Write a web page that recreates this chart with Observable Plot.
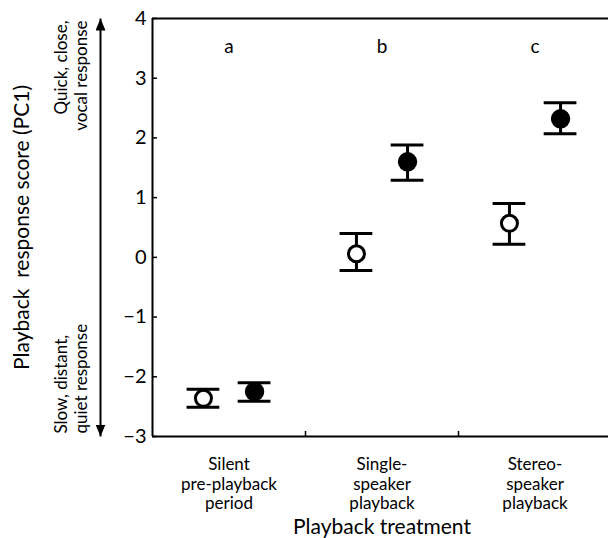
<!DOCTYPE html>
<html>
<head>
<meta charset="utf-8">
<script src="https://cdn.jsdelivr.net/npm/d3@7"></script>
<script src="https://cdn.jsdelivr.net/npm/@observablehq/plot@0.6"></script>
<style>
  html, body { margin: 0; padding: 0; background: #fff; overflow: hidden; }
  svg { display: block; }
</style>
</head>
<body>
<div id="chart"></div>
<script>
// ---- data ----
const categories = ["Silent\npre-playback\nperiod", "Single-\nspeaker\nplayback", "Stereo-\nspeaker\nplayback"];
const groupLetters = ["a", "b", "c"];
const openMean = [-2.36, 0.06, 0.57];
const openLow = [-2.51, -0.22, 0.22];
const openHigh = [-2.21, 0.40, 0.90];
const filledMean = [-2.25, 1.60, 2.32];
const filledLow = [-2.41, 1.29, 2.07];
const filledHigh = [-2.10, 1.88, 2.59];
const yTicks = [-3, -2, -1, 0, 1, 2, 3, 4];
const xDividers = [1, 2];

// ---- layout ----
const W = 608, H = 538;
const mL = 152, mR = 0, mT = 18, mB = 102;
const plotW = W - mL - mR, plotH = H - mT - mB;
const yMin = -3, yMax = 4;
const pxPerY = plotH / (yMax - yMin);
const tickLen = 5;
const offset = 0.167;   // horizontal shift of each series inside a category
const capHalf = 0.107;  // half width of error-bar caps
const font = "Lato, 'Open Sans', sans-serif";

const open = categories.map((c, i) => ({i, x: i + 0.5 - offset, m: openMean[i], lo: openLow[i], hi: openHigh[i]}));
const filled = categories.map((c, i) => ({i, x: i + 0.5 + offset, m: filledMean[i], lo: filledLow[i], hi: filledHigh[i]}));
const both = open.concat(filled);

const arrowHead = (color) => {
  const m = d3.create("svg:marker")
    .attr("viewBox", "0 -5 12 10")
    .attr("refX", 12)
    .attr("refY", 0)
    .attr("markerWidth", 12)
    .attr("markerHeight", 10)
    .attr("markerUnits", "userSpaceOnUse")
    .attr("orient", "auto-start-reverse");
  m.append("path").attr("d", "M0,-5L12,0L0,5Z").attr("fill", color).attr("stroke", "none");
  return m.node();
};

const chart = Plot.plot({
  width: W, height: H,
  marginLeft: mL, marginRight: mR, marginTop: mT, marginBottom: mB,
  style: {fontFamily: font, color: "#000", background: "#fff", overflow: "visible"},
  x: {domain: [0, plotW / 153], axis: null},
  y: {domain: [yMin, yMax], axis: null},
  marks: [
    // frame lines
    Plot.ruleY([yMax, yMin], {stroke: "#000", strokeWidth: 2}),
    Plot.ruleX([0], {y1: yMin, y2: yMax, stroke: "#000", strokeWidth: 2}),
    // inward ticks
    Plot.ruleY(yTicks, {stroke: "#000", strokeWidth: 1.5, insetRight: plotW - tickLen}),
    Plot.ruleX(xDividers, {y1: yMin, y2: yMin + tickLen / pxPerY, stroke: "#000", strokeWidth: 1.5}),
    // y tick labels
    Plot.axisY(yTicks, {tickSize: 0, tickPadding: 6, fontSize: 20, tickFormat: d3.format("d"), anchor: "left"}),
    // category labels
    Plot.text(categories, {x: (d, i) => i + 0.5, y: yMin, text: d => d, dy: 20, lineAnchor: "top", fontSize: 17, lineHeight: 1.15}),
    // x title
    Plot.text(["Playback treatment"], {frameAnchor: "bottom", x: 1.5, dy: 91, lineAnchor: "middle", fontSize: 21}),
    // y title
    Plot.text(["Playback  response score (PC1)"], {frameAnchor: "left", dx: -130, rotate: -90, fontSize: 21, textAnchor: "middle"}),
    // annotations
    Plot.text(["Quick, close,\nvocal response"], {frameAnchor: "left", y: yMax, dx: -82, dy: 2, rotate: -90, textAnchor: "end", lineAnchor: "middle", fontSize: 17, lineHeight: 1.2}),
    Plot.text(["Slow, distant,\nquiet response"], {frameAnchor: "left", y: yMin, dx: -82, dy: -3, rotate: -90, textAnchor: "start", lineAnchor: "middle", fontSize: 17, lineHeight: 1.2}),
    Plot.link([0], {x1: 0, x2: 0, y1: yMin, y2: yMax, dx: -52, stroke: "#000", strokeWidth: 2, markerStart: arrowHead, markerEnd: arrowHead}),
    // significance letters
    Plot.text(groupLetters, {x: (d, i) => i + 0.5, y: 3.52, text: d => d, fontSize: 19}),
    // error bars
    Plot.ruleX(both, {x: "x", y1: "lo", y2: "hi", stroke: "#000", strokeWidth: 3}),
    Plot.ruleY(both, {y: "lo", x1: d => d.x - capHalf, x2: d => d.x + capHalf, stroke: "#000", strokeWidth: 3}),
    Plot.ruleY(both, {y: "hi", x1: d => d.x - capHalf, x2: d => d.x + capHalf, stroke: "#000", strokeWidth: 3}),
    // means
    Plot.dot(open, {x: "x", y: "m", r: 8, fill: "#fff", stroke: "#000", strokeWidth: 3}),
    Plot.dot(filled, {x: "x", y: "m", r: 9.7, fill: "#000", stroke: "none"})
  ]
});
document.getElementById("chart").append(chart);
</script>
</body>
</html>
